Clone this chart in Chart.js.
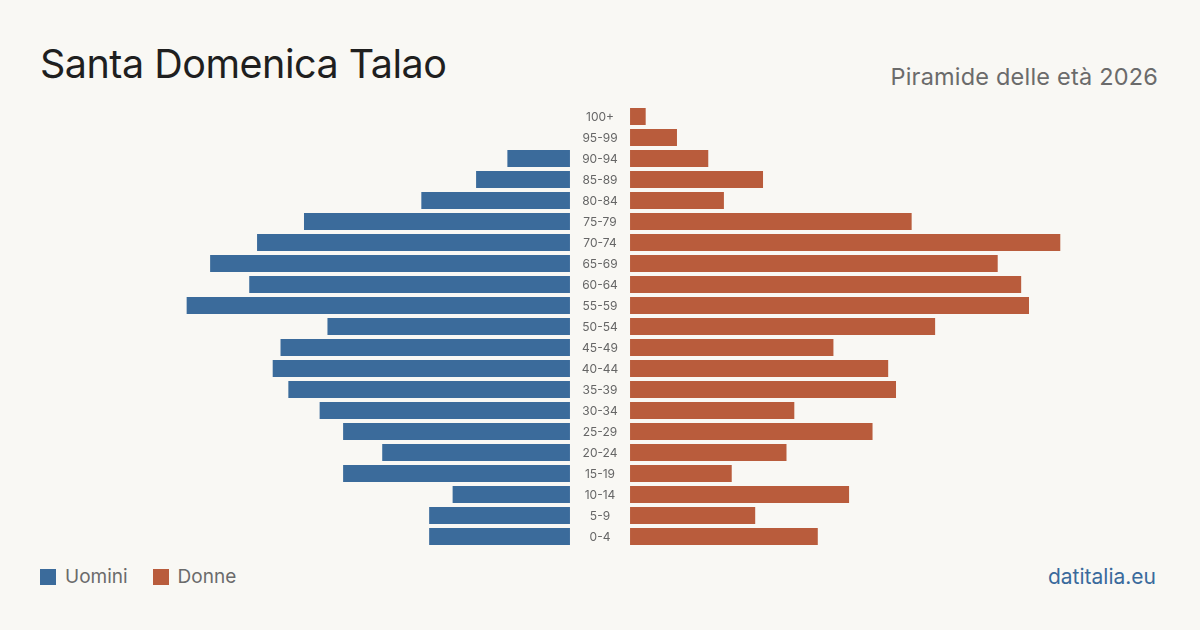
<!DOCTYPE html>
<html>
<head>
<meta charset="utf-8">
<script src="https://cdn.jsdelivr.net/npm/chart.js"></script>
<style>
  html, body { margin: 0; padding: 0; }
  body { width: 1200px; height: 630px; background: #f9f8f4; position: relative; overflow: hidden; font-family: Inter, "Noto Sans", sans-serif; }
  .title { position: absolute; left: 40px; top: 45px; font-size: 39.5px; color: #1f1f1f; line-height: 1; letter-spacing: -0.5px; }
  .subtitle { position: absolute; right: 42px; top: 65px; font-size: 23.5px; color: #6b6b6b; line-height: 1; letter-spacing: 0.2px; }
  .legend { position: absolute; left: 40px; top: 567px; font-size: 19px; color: #6b6b6b; display: flex; align-items: center; line-height: 1; }
  .legend span.box { display: inline-block; width: 16px; height: 16px; margin-right: 9px; }
  .legend .item { display: flex; align-items: center; margin-right: 25px; }
  .brand { position: absolute; right: 44px; top: 566px; font-size: 21px; color: #3a6a9c; line-height: 1; }
  #wrap { position: absolute; left: 0; top: 106px; width: 1200px; height: 441px; }
</style>
</head>
<body>
<div class="title">Santa Domenica Talao</div>
<div class="subtitle">Piramide delle età 2026</div>
<div id="wrap"><canvas id="c"></canvas></div>
<div class="legend">
  <div class="item"><span class="box" style="background:#3b6b9b"></span>Uomini</div>
  <div class="item"><span class="box" style="background:#b95c3c"></span>Donne</div>
</div>
<div class="brand">datitalia.eu</div>
<script>
const ageGroups = ["100+", "95-99", "90-94", "85-89", "80-84", "75-79", "70-74", "65-69", "60-64", "55-59",
  "50-54", "45-49", "40-44", "35-39", "30-34", "25-29", "20-24", "15-19", "10-14", "5-9", "0-4"];
const uomini = [0, 0, 8, 12, 19, 34, 40, 46, 41, 49, 31, 37, 38, 36, 32, 29, 24, 29, 15, 18, 18];
const donne = [2, 6, 10, 17, 12, 36, 55, 47, 50, 51, 39, 26, 33, 34, 21, 31, 20, 13, 28, 16, 24];

// half-width of the label gap and of the whole axis, in value units
const gap = 3.84;
const span = 76.7;

const centerLabels = {
    id: "centerLabels",
    afterDatasetsDraw(chart) {
        const { ctx, scales: { x, y } } = chart;
        ctx.save();
        ctx.font = "12px Inter, sans-serif";
        ctx.fillStyle = "#666";
        ctx.textAlign = "center";
        ctx.textBaseline = "middle";
        ageGroups.forEach((g, i) => {
            ctx.fillText(g, x.getPixelForValue(0), y.getPixelForValue(i) + 1);
        });
        ctx.restore();
    }
};

new Chart(document.getElementById("c"), {
    type: "bar",
    data: {
        labels: ageGroups,
        datasets: [{
            label: "Uomini",
            data: uomini.map(v => v > 0 ? [-gap - v, -gap] : null),
            backgroundColor: "#3b6b9b",
            grouped: false
        }, {
            label: "Donne",
            data: donne.map(v => v > 0 ? [gap, gap + v] : null),
            backgroundColor: "#b95c3c",
            grouped: false
        }]
    },
    options: {
        indexAxis: "y",
        responsive: true,
        maintainAspectRatio: false,
        animation: false,
        layout: { padding: 0 },
        datasets: { bar: { barPercentage: 0.81, categoryPercentage: 1 } },
        plugins: {
            legend: { display: false },
            tooltip: { enabled: false }
        },
        scales: {
            x: { display: false, min: -span, max: span },
            y: { display: false }
        }
    },
    plugins: [centerLabels]
});
</script>
</body>
</html>
